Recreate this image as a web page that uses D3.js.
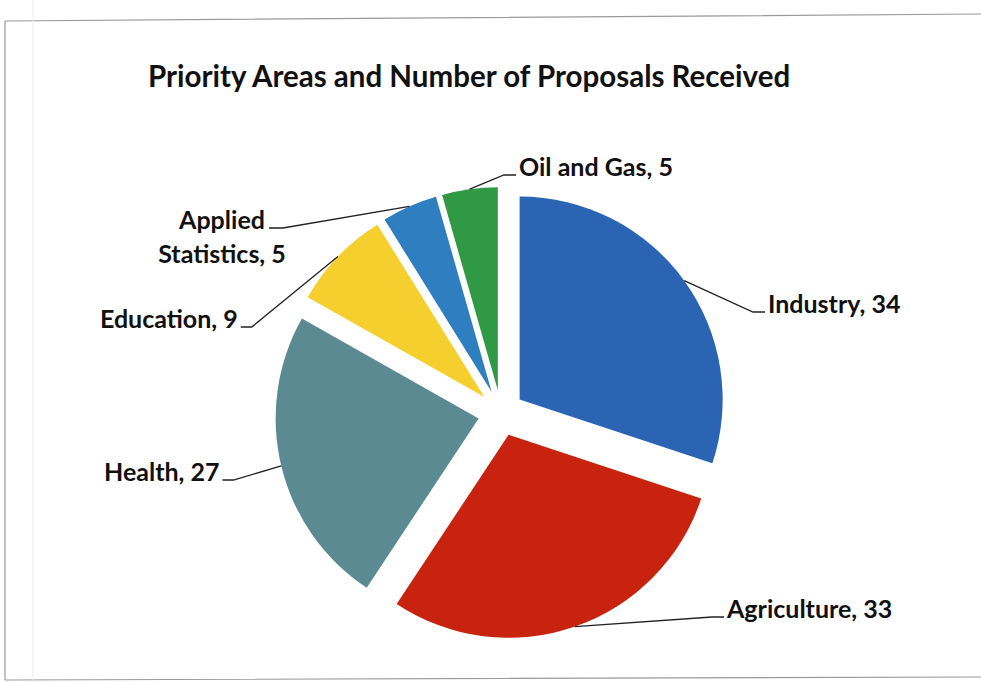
<!DOCTYPE html>
<html>
<head>
<meta charset="utf-8">
<script src="https://cdn.jsdelivr.net/npm/d3@7"></script>
<style>
  body { margin: 0; background: #fff; }
  text { font-family: Lato, "Open Sans", sans-serif; font-weight: bold; fill: #111; }
</style>
</head>
<body>
<svg id="chart" width="981" height="682"></svg>
<script>
// data
var areas = ["Industry", "Agriculture", "Health", "Education", "Applied Statistics", "Oil and Gas"];
var proposals = [34, 33, 27, 9, 5, 5];
var colours = ["#2b64b2", "#c8230f", "#5c8a93", "#f5cf2e", "#2f7fc0", "#2f9944"];

var width = 981, height = 682;
var cx = 501, cy = 413, radius = 203, explode = 23;

// label placement: [x, baseline, side]
var labelPos = {
  "Industry": [768, 313, "right"],
  "Agriculture": [727, 618, "right"],
  "Health": [104, 481, "left"],
  "Education": [100, 328, "left"],
  "Applied Statistics": [222, 229, "left2"],
  "Oil and Gas": [519, 176, "right"]
};

var svg = d3.select("#chart");

// scanned frame
svg.append("path")
  .attr("d", "M5,21 L981,14 M5,21 L5,680 M5,680 L981,677")
  .attr("fill", "none").attr("stroke", "#9a9a9a").attr("stroke-width", 1.2);
svg.append("line")
  .attr("x1", 33).attr("y1", 0).attr("x2", 33).attr("y2", 682)
  .attr("stroke", "#ececec").attr("stroke-width", 1);

svg.append("text")
  .attr("x", 148).attr("y", 87)
  .style("font-size", "29.5px")
  .text("Priority Areas and Number of Proposals Received");

var pie = d3.pie().sort(null).value(function (d) { return d.value; });
var data = areas.map(function (a, i) { return { name: a, value: proposals[i], colour: colours[i] }; });
var arcs = pie(data);
var arc = d3.arc().innerRadius(0).outerRadius(radius);

function dir(a) { return [Math.sin(a), -Math.cos(a)]; }

var g = svg.append("g").attr("transform", "translate(" + cx + "," + cy + ")");

g.selectAll("path.slice")
  .data(arcs)
  .enter()
  .append("path")
  .attr("class", "slice")
  .attr("d", arc)
  .attr("fill", function (d) { return d.data.colour; })
  .attr("transform", function (d) {
    var v = dir((d.startAngle + d.endAngle) / 2);
    return "translate(" + v[0] * explode + "," + v[1] * explode + ")";
  });

// labels and leader lines
arcs.forEach(function (d) {
  var p = labelPos[d.data.name];
  var v = dir((d.startAngle + d.endAngle) / 2);
  var ex = cx + v[0] * (radius + explode), ey = cy + v[1] * (radius + explode);
  var lx, ly = p[1] - 1;

  if (d.data.name === "Applied Statistics") {
    var t = svg.append("text").attr("text-anchor", "middle").style("font-size", "25px");
    t.append("tspan").attr("x", p[0]).attr("y", p[1]).text("Applied");
    t.append("tspan").attr("x", p[0]).attr("y", p[1] + 34).text("Statistics, " + d.data.value);
    var w = t.select("tspan").node().getComputedTextLength();
    lx = p[0] + w / 2 + 4;
    svg.append("polyline")
      .attr("points", [[lx, ly], [lx + 14, ly], [ex, ey]].join(" "))
      .attr("fill", "none").attr("stroke", "#222").attr("stroke-width", 1.3);
    return;
  }

  var txt = svg.append("text")
    .attr("x", p[0]).attr("y", p[1])
    .style("font-size", "25px")
    .text(d.data.name + ", " + d.data.value);
  var tw = txt.node().getComputedTextLength();

  var pts;
  if (p[2] === "right") {
    lx = p[0] - 3;
    pts = [[lx, ly], [lx - 12, ly], [ex, ey]];
  } else {
    lx = p[0] + tw + 3;
    pts = [[lx, ly], [lx + 11, ly], [ex, ey]];
  }
  svg.append("polyline")
    .attr("points", pts.join(" "))
    .attr("fill", "none").attr("stroke", "#222").attr("stroke-width", 1.3);
});
</script>
</body>
</html>
